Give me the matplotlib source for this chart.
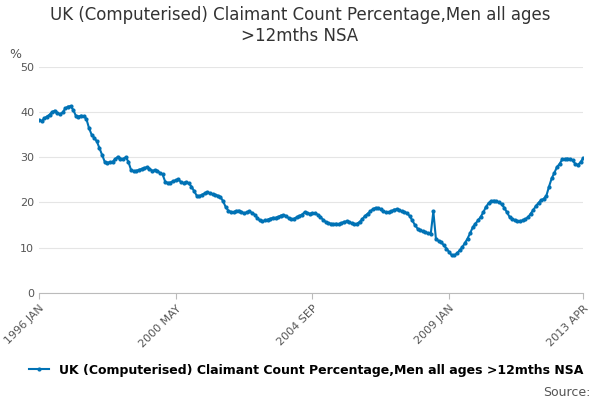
import matplotlib.pyplot as plt
import numpy as np

values = [
    38.2, 38.0, 38.6, 39.0, 39.4, 40.0, 40.3, 39.8, 39.5, 39.9, 40.8, 41.2,
    41.3, 40.5, 39.2, 39.0, 39.2, 39.1, 38.5, 36.5, 35.0, 34.3, 33.5, 32.0,
    30.5, 29.0, 28.8, 28.9, 29.0, 29.6, 30.1, 29.7, 29.6, 30.0, 29.0, 27.2,
    26.9, 27.0, 27.2, 27.4, 27.6, 27.8, 27.5, 27.0, 27.1, 27.0, 26.5, 26.2,
    24.6, 24.3, 24.4, 24.7, 24.9, 25.1, 24.5, 24.3, 24.5, 24.2, 23.5, 22.5,
    21.5, 21.4, 21.7, 22.0, 22.3, 22.0, 21.8, 21.7, 21.5, 21.2, 20.3, 19.0,
    18.2, 17.9, 17.8, 18.1, 18.2, 17.9, 17.6, 17.8, 18.0, 17.7, 17.3, 16.6,
    16.0, 15.8, 16.0, 16.2, 16.4, 16.6, 16.6, 16.8, 17.1, 17.2, 17.0, 16.5,
    16.3, 16.4, 16.7, 17.0, 17.3, 17.8, 17.7, 17.5, 17.6, 17.6, 17.3, 16.8,
    16.2, 15.7, 15.4, 15.3, 15.2, 15.3, 15.2, 15.4, 15.7, 15.8, 15.6, 15.4,
    15.2, 15.3, 15.7, 16.3, 17.0, 17.5, 18.0, 18.5, 18.8, 18.7, 18.5, 18.0,
    17.8, 17.8, 18.0, 18.4, 18.5, 18.3, 18.0, 17.9, 17.6, 17.0, 16.0, 15.0,
    14.2, 13.8, 13.6, 13.4, 13.2, 13.0, 18.0, 11.8, 11.5, 11.2, 10.5, 9.8,
    9.0, 8.3, 8.3, 8.7, 9.4, 10.1, 11.0, 12.0, 13.2, 14.5, 15.3, 16.0,
    16.8, 17.8, 19.0, 19.8, 20.3, 20.4, 20.2, 20.0, 19.6, 18.8, 17.8, 16.8,
    16.4, 16.0, 15.8, 15.9, 16.0, 16.3, 16.7, 17.5, 18.3, 19.2, 19.9, 20.5,
    20.8, 21.5, 23.5, 25.3, 26.5, 27.8, 28.5, 29.5, 29.6, 29.7, 29.6, 29.3,
    28.5, 28.3, 28.9, 29.8,
]
tick_pos = [0, 52, 104, 156, 207]
tick_labels = ['1996 JAN', '2000 MAY', '2004 SEP', '2009 JAN', '2013 APR']
series_name = 'UK (Computerised) Claimant Count Percentage,Men all ages >12mths NSA'

color = '#0072b5'
fig = plt.figure(figsize=(6, 4), dpi=100)
ax = fig.add_axes([0.065, 0.268, 0.907, 0.565])
x = np.arange(len(values))
ax.plot(x, values, color=color, lw=1.5, marker='o', ms=2.0, label=series_name)
ax.set_xlim(0, len(values) - 1)
ax.set_ylim(0, 50)
ax.set_yticks(range(0, 51, 10))
ax.set_xticks(tick_pos)
ax.set_xticklabels(tick_labels, rotation=45, ha='right', rotation_mode='anchor')
ax.tick_params(labelsize=8, colors='#555555', length=0)
ax.tick_params(axis='x', length=4, color='#bbbbbb')
ax.grid(axis='y', color='#e5e5e5', lw=0.8)
for s in ['top', 'right', 'left']:
    ax.spines[s].set_visible(False)
ax.spines['bottom'].set_color('#bbbbbb')
fig.suptitle('UK (Computerised) Claimant Count Percentage,Men all ages\n>12mths NSA',
             y=0.985, fontsize=12, color='#333333')
fig.text(0.015, 0.855, '%', fontsize=9, color='#555555')
fig.legend(loc='lower center', bbox_to_anchor=(0.51, 0.03), frameon=False,
           prop={'size': 9, 'weight': 'bold'}, handlelength=1.6)
fig.text(0.985, 0.01, 'Source:', fontsize=9, color='#555555', ha='right')
fig.savefig('out.png')
